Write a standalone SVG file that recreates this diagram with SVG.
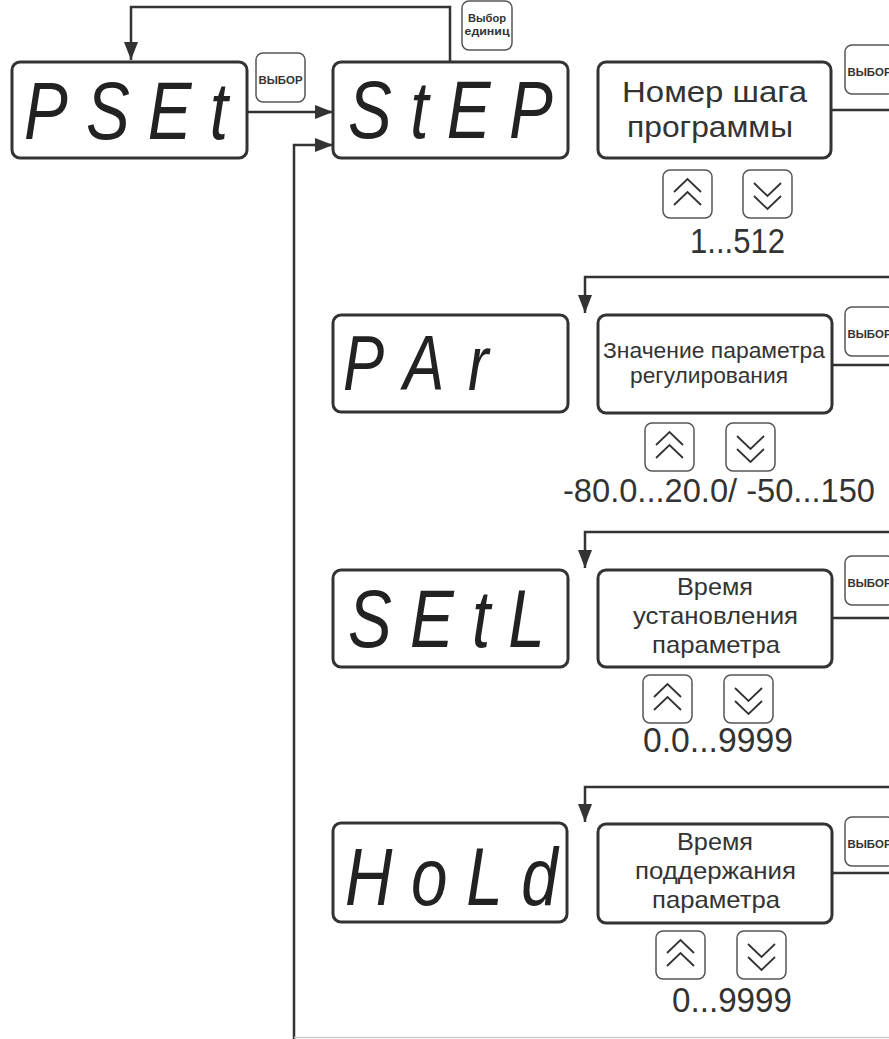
<svg xmlns="http://www.w3.org/2000/svg" xmlns:xlink="http://www.w3.org/1999/xlink" width="889" height="1039" viewBox="0 0 889 1039">
<style>
.disp{fill:#fff;stroke:#333;stroke-width:3}
.seg{font-family:"Liberation Sans",Arial,sans-serif;font-style:italic;font-size:82px;fill:#222}
.btn{fill:#fff;stroke:#555;stroke-width:1.5}
.btxt{font-family:"Liberation Sans",Arial,sans-serif;font-weight:bold;font-size:11.5px;fill:#333;text-anchor:middle}
.lbl{font-family:"Liberation Sans",Arial,sans-serif;fill:#333}
.num{font-family:"Liberation Sans",Arial,sans-serif;fill:#333;font-size:35px}
.conn{fill:none;stroke:#333;stroke-width:2.5}
.chev{fill:none;stroke:#333;stroke-width:1.8}
</style>
<defs>
<marker id="ah" markerUnits="userSpaceOnUse" markerWidth="18" markerHeight="14" refX="18" refY="7" orient="auto">
<path d="M0,0 L18,7 L0,14 z" fill="#333"/>
</marker>
<g id="vybor">
<rect x="0" y="0" width="49" height="49" rx="7" class="btn"/>
<text x="24.5" y="31" class="btxt" textLength="44" lengthAdjust="spacingAndGlyphs">ВЫБОР</text>
</g>
<g id="up">
<rect x="0" y="0" width="49" height="48" rx="7" class="btn"/>
<polyline class="chev" points="11,22 24.5,9 38,22"/>
<polyline class="chev" points="11,35 24.5,22 38,35"/>
</g>
<g id="down">
<rect x="0" y="0" width="49" height="48" rx="7" class="btn"/>
<polyline class="chev" points="11,13 24.5,26 38,13"/>
<polyline class="chev" points="11,26 24.5,39 38,26"/>
</g>
</defs>

<g id="connectors">
<path class="conn" d="M450,62 V7 H131 V60" marker-end="url(#ah)"/>
<path class="conn" d="M247,112 H333" marker-end="url(#ah)"/>
<path class="conn" d="M294,1039 V145 H333" marker-end="url(#ah)"/>
<path class="conn" d="M831,110 H889"/>
<path class="conn" d="M832,365 H889"/>
<path class="conn" d="M832,618 H889"/>
<path class="conn" d="M832,873 H889"/>
<path class="conn" d="M889,277 H585 V313" marker-end="url(#ah)"/>
<path class="conn" d="M889,532 H585 V568" marker-end="url(#ah)"/>
<path class="conn" d="M889,787 H585 V822" marker-end="url(#ah)"/>
<path d="M294,1037.5 H889" fill="none" stroke="#ccc" stroke-width="1.5"/>
</g>

<g id="pset">
<rect x="12" y="62" width="235" height="96" rx="8" class="disp"/>
<text transform="translate(24,139) scale(0.8,1)" class="seg" textLength="255" lengthAdjust="spacing">PSEt</text>
</g>
<g id="btn-vybor-1"><use xlink:href="#vybor" x="256" y="53"/></g>
<g id="step">
<rect x="333" y="62" width="235" height="96" rx="8" class="disp"/>
<text transform="translate(348,138) scale(0.8,1)" class="seg" textLength="256" lengthAdjust="spacing">StEP</text>
</g>
<g id="btn-units">
<rect x="462" y="1" width="50" height="49" rx="7" class="btn"/>
<text x="487" y="22" class="btxt" style="font-size:10.5px" textLength="38" lengthAdjust="spacingAndGlyphs">Выбор</text>
<text x="487" y="35" class="btxt" style="font-size:10.5px" textLength="45" lengthAdjust="spacingAndGlyphs">единиц</text>
</g>

<g id="step-num">
<rect x="598" y="62" width="233" height="96" rx="8" class="disp"/>
<text x="622" y="102" class="lbl" font-size="29" textLength="185" lengthAdjust="spacingAndGlyphs">Номер шага</text>
<text x="627" y="137" class="lbl" font-size="29" textLength="166" lengthAdjust="spacingAndGlyphs">программы</text>
</g>
<g id="btn-vybor-2"><use xlink:href="#vybor" x="845" y="45"/></g>
<g id="step-keys">
<use xlink:href="#up" x="663" y="170"/>
<use xlink:href="#down" x="743" y="170"/>
<text x="690" y="253" class="num" textLength="95" lengthAdjust="spacingAndGlyphs">1...512</text>
</g>

<g id="par">
<rect x="333" y="315" width="235" height="97" rx="8" class="disp"/>
<text transform="translate(343,390) scale(0.8,1)" class="seg" style="font-size:77px" textLength="182" lengthAdjust="spacing">PAr</text>
</g>
<g id="par-val">
<rect x="598" y="315" width="234" height="98" rx="8" class="disp"/>
<text x="603" y="358" class="lbl" font-size="22.5" textLength="222" lengthAdjust="spacingAndGlyphs">Значение параметра</text>
<text x="630" y="383" class="lbl" font-size="22.5" textLength="158" lengthAdjust="spacingAndGlyphs">регулирования</text>
</g>
<g id="btn-vybor-3"><use xlink:href="#vybor" x="845" y="307"/></g>
<g id="par-keys">
<use xlink:href="#up" x="645" y="423"/>
<use xlink:href="#down" x="726" y="423"/>
<text x="563" y="502" class="num" style="font-size:33.5px" textLength="312" lengthAdjust="spacingAndGlyphs">-80.0...20.0/ -50...150</text>
</g>

<g id="setl">
<rect x="333" y="570" width="235" height="97" rx="8" class="disp"/>
<text transform="translate(348,647) scale(0.8,1)" class="seg" textLength="246" lengthAdjust="spacing">SEtL</text>
</g>
<g id="setl-val">
<rect x="598" y="570" width="234" height="97" rx="8" class="disp"/>
<text x="677" y="595" class="lbl" font-size="24" textLength="76" lengthAdjust="spacingAndGlyphs">Время</text>
<text x="633" y="624" class="lbl" font-size="24" textLength="165" lengthAdjust="spacingAndGlyphs">установления</text>
<text x="652" y="653" class="lbl" font-size="24" textLength="128" lengthAdjust="spacingAndGlyphs">параметра</text>
</g>
<g id="btn-vybor-4"><use xlink:href="#vybor" x="845" y="556"/></g>
<g id="setl-keys">
<use xlink:href="#up" x="643" y="675"/>
<use xlink:href="#down" x="724" y="675"/>
<text x="643" y="752" class="num" textLength="150" lengthAdjust="spacingAndGlyphs">0.0...9999</text>
</g>

<g id="hold">
<rect x="333" y="823" width="234" height="99" rx="8" class="disp"/>
<text transform="translate(345,905) scale(0.8,1)" class="seg" textLength="266" lengthAdjust="spacing">HoLd</text>
</g>
<g id="hold-val">
<rect x="598" y="824" width="234" height="99" rx="8" class="disp"/>
<text x="677" y="850" class="lbl" font-size="24" textLength="76" lengthAdjust="spacingAndGlyphs">Время</text>
<text x="635" y="879" class="lbl" font-size="24" textLength="161" lengthAdjust="spacingAndGlyphs">поддержания</text>
<text x="652" y="908" class="lbl" font-size="24" textLength="128" lengthAdjust="spacingAndGlyphs">параметра</text>
</g>
<g id="btn-vybor-5"><use xlink:href="#vybor" x="845" y="817"/></g>
<g id="hold-keys">
<use xlink:href="#up" x="656" y="931"/>
<use xlink:href="#down" x="737" y="931"/>
<text x="672" y="1012" class="num" textLength="120" lengthAdjust="spacingAndGlyphs">0...9999</text>
</g>
</svg>
